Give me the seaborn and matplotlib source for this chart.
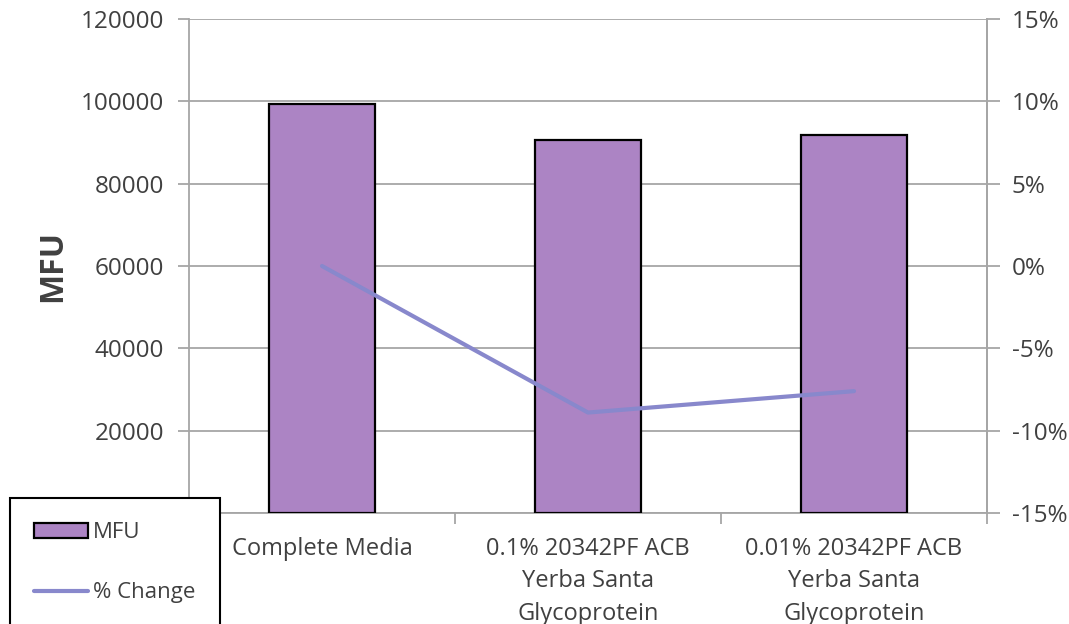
import matplotlib
matplotlib.use("Agg")
import matplotlib.pyplot as plt
import seaborn as sns
import numpy as np
import pandas as pd
from matplotlib.ticker import FuncFormatter, FixedLocator

categories = ["Complete Media",
              "0.1% 20342PF ACB\nYerba Santa\nGlycoprotein",
              "0.01% 20342PF ACB\nYerba Santa\nGlycoprotein"]
mfu = [99400, 90600, 91900]
pct_change = [0.0, -8.9, -7.6]
left_ticks = [0, 20000, 40000, 60000, 80000, 100000, 120000]
right_ticks = [-15, -10, -5, 0, 5, 10, 15]

sns.set_theme(style="white")
plt.rcParams['font.family'] = ['Open Sans', 'DejaVu Sans']

TEXT = "#404040"
GRID = "#a6a6a6"
BAR = "#ac84c4"
LINE = "#8888cc"
FS_NUM = 17.5
FS_CAT = 17
FS_LEG = 16

fig = plt.figure(figsize=(10.69, 6.24), dpi=100)
ax = fig.add_axes([189/1069, 1-513/624, (987-189)/1069, (513-19)/624])

df = pd.DataFrame({"cat": categories, "MFU": mfu})
sns.barplot(data=df, x="cat", y="MFU", ax=ax, color=BAR, saturation=1,
            width=0.4, edgecolor="black", linewidth=1.6, label="MFU", zorder=3)
if ax.get_legend() is not None:
    ax.get_legend().remove()

ax.set_ylim(0, 120000)
ax.set_xlim(-0.5, len(categories) - 0.5)
ax.yaxis.set_major_locator(FixedLocator(left_ticks))
ax.grid(axis="y", color=GRID, linewidth=1.3, zorder=0)
ax.set_axisbelow(True)
ax.set_xlabel("")
ax.set_ylabel("MFU", fontsize=23, fontweight="bold", color=TEXT, va="center")
ax.yaxis.set_label_coords((53 - 189) / 798, 0.5)

for s in ["left", "right", "bottom"]:
    ax.spines[s].set_color(GRID)
    ax.spines[s].set_linewidth(1.3)
ax.spines["top"].set_visible(False)

ax.tick_params(axis="y", which="major", direction="out", length=8, width=1.3,
               color=GRID, labelsize=FS_NUM, labelcolor=TEXT, pad=10, left=True)
ax.tick_params(axis="x", which="major", length=0, labelsize=FS_CAT, labelcolor=TEXT, pad=17)
ax.xaxis.set_minor_locator(FixedLocator([0.5, 1.5, 2.5]))
ax.tick_params(axis="x", which="minor", direction="out", length=8, width=1.3,
               color=GRID, bottom=True)
for lbl in ax.get_xticklabels():
    lbl.set_linespacing(1.47)
    lbl.set_multialignment("center")

ax2 = ax.twinx()
sns.lineplot(x=np.arange(len(categories)), y=pct_change, ax=ax2, color=LINE,
             linewidth=3, label="% Change", legend=False, zorder=4)
ax2.set_ylim(-15, 15)
ax2.yaxis.set_major_locator(FixedLocator(right_ticks))
ax2.yaxis.set_major_formatter(FuncFormatter(lambda v, p: f"{int(round(v))}%"))
ax2.tick_params(axis="y", direction="out", length=9, width=1.3, color=GRID,
                labelsize=FS_NUM, labelcolor=TEXT, pad=9, right=True)
for s in ["left", "right", "bottom", "top"]:
    ax2.spines[s].set_visible(False)
ax2.spines["right"].set_visible(True)
ax2.spines["right"].set_color(GRID)
ax2.spines["right"].set_linewidth(1.3)
ax2.set_ylabel("")

h1, l1 = ax.get_legend_handles_labels()
h2, l2 = ax2.get_legend_handles_labels()
leg = fig.legend(h1 + h2, l1 + l2, loc="upper left",
                 bbox_to_anchor=(10/1069, 1-498/624), frameon=True, fancybox=False,
                 framealpha=1, facecolor="white",
                 edgecolor="black", fontsize=FS_LEG, labelspacing=1.75,
                 handlelength=2.4, handleheight=0.7, handletextpad=0.25,
                 borderpad=1.1, borderaxespad=0)
leg.get_frame().set_linewidth(1.5)
for t in leg.get_texts():
    t.set_color(TEXT)

fig.savefig("out.png", dpi=100)
